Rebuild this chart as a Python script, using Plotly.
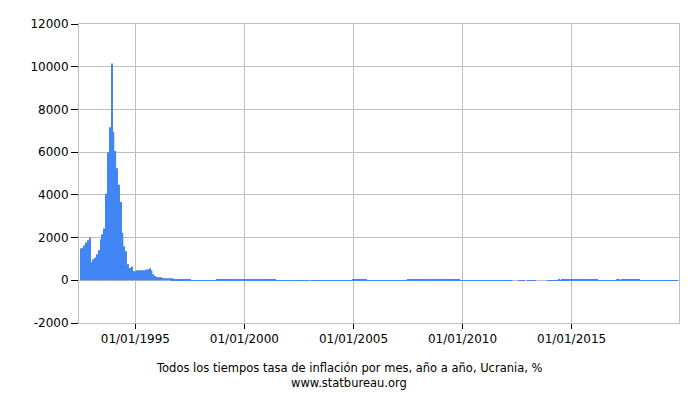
"""Ukraine monthly year-over-year inflation, all time (statbureau style)."""

import pandas as pd
import plotly.graph_objects as go

# Monthly yoy inflation, %, first month is Jul 1992
y1992 = [1484, 1516, 1625, 1766, 1875, 2000]
y1993 = [844, 984, 1063, 1219, 1406, 1922, 2156, 2422, 4050, 5990, 7170, 10155]
y1994 = [6940, 6050, 5250, 4470, 3670, 2220, 1590, 1360, 745, 574, 651, 434]
y1995 = [420, 465, 465, 465, 465, 465, 510, 510, 560, 465, 280, 200]
y1996 = [155, 140, 140, 110, 95, 95, 95, 95, 90, 78, 60, 47]
y1997 = [40, 35, 30, 25, 20, 17, 15, 13, 12, 11, 10, 10]
y1998 = [9, 8, 7, 6, 6, 6, 6, 7, 12, 16, 18, 20]
y1999 = [21, 22, 23, 23, 22, 21, 20, 19, 20, 20, 20, 19]
y2000 = [22, 23, 25, 26, 28, 29, 30, 30, 29, 27, 26, 26]
y2001 = [24, 22, 20, 17, 15, 14, 12, 10, 8, 7, 6, 6]
y2002 = [5, 4, 3, 2, 1, -1, -3, -3, -2, -2, -1, -1]
y2003 = [0, 1, 3, 4, 5, 6, 7, 8, 8, 8, 8, 8]
y2004 = [8, 8, 8, 8, 9, 10, 11, 11, 11, 12, 12, 12]
y2005 = [14, 15, 15, 14, 15, 15, 15, 14, 13, 12, 11, 10]
y2006 = [9, 8, 7, 7, 7, 7, 8, 9, 11, 11, 11, 12]
y2007 = [12, 11, 11, 12, 12, 13, 14, 15, 15, 15, 16, 17]
y2008 = [20, 22, 26, 30, 31, 30, 27, 25, 24, 23, 23, 22]
y2009 = [22, 21, 18, 16, 15, 15, 15, 16, 16, 16, 16, 12]
y2010 = [11, 11, 11, 10, 10, 9, 9, 8, 10, 10, 10, 9]
y2011 = [8, 7, 8, 9, 11, 10, 9, 7, 6, 6, 5, 5]
y2012 = [4, 4, 2, 1, 0, 0, 0, -1, -1, -1, -1, -0.2]
y2013 = [-0.5, -0.6, -0.6, -0.9, -0.8, -0.3, -0.3, -0.3, 0, 0, 0, 0.5]
y2014 = [0.5, 1, 3, 7, 12, 14, 13, 15, 18, 20, 21, 25]
y2015 = [29, 34, 46, 61, 58, 57, 55, 53, 52, 51, 46, 43]
y2016 = [40, 33, 21, 10, 7, 7, 7, 8, 8, 12, 12, 12]
y2017 = [13, 14, 15, 13, 14, 16, 16, 16, 16, 14, 15, 14]
y2018 = [14, 15, 13, 13, 12, 10, 9, 9, 9, 10, 10, 10]
y2019 = [9, 9, 9, 9, 9, 10, 9, 9, 8, 7, 6]

tick_dates = ["1995-01-01", "2000-01-01", "2005-01-01", "2010-01-01", "2015-01-01"]
tick_labels = ["01/01/1995", "01/01/2000", "01/01/2005", "01/01/2010", "01/01/2015"]
y_ticks = [-2000, 0, 2000, 4000, 6000, 8000, 10000, 12000]
y_tick_labels = ["-2000", "0", "2000", "4000", "6000", "8000", "10000", "12000"]

values = (
    y1992 + y1993 + y1994 + y1995 + y1996 + y1997 + y1998 + y1999 + y2000
    + y2001 + y2002 + y2003 + y2004 + y2005 + y2006 + y2007 + y2008 + y2009
    + y2010 + y2011 + y2012 + y2013 + y2014 + y2015 + y2016 + y2017 + y2018
    + y2019
)
months = pd.date_range("1992-07-01", periods=len(values), freq="MS")

GRID = "#c0c0c0"
FONT = "DejaVu Sans"

fig = go.Figure(
    go.Bar(x=months, y=values, marker_color="#4285F4", marker_line_width=0)
)

# page body adds an offset, so margins are shifted by that
fig.update_layout(
    width=700,
    height=400,
    margin=dict(l=71, r=29, t=9, b=85),
    plot_bgcolor="white",
    paper_bgcolor="white",
    bargap=0.15,
    showlegend=False,
    font=dict(family=FONT, size=12, color="black"),
)

fig.update_xaxes(
    type="date",
    range=["1992-06-01", "2019-12-05"],
    tickvals=tick_dates,
    ticktext=tick_labels,
    showgrid=True,
    gridcolor=GRID,
    ticks="outside",
    ticklen=5,
    tickcolor="black",
    showline=True,
    linecolor=GRID,
    mirror=True,
    tickfont=dict(size=12),
)

fig.update_yaxes(
    range=[-2000, 12000],
    tickvals=y_ticks,
    ticktext=y_tick_labels,
    showgrid=True,
    gridcolor=GRID,
    zeroline=True,
    zerolinecolor=GRID,
    zerolinewidth=1,
    ticks="outside",
    ticklen=7,
    tickcolor="black",
    showline=True,
    linecolor=GRID,
    mirror=True,
    tickfont=dict(size=12),
)

fig.add_annotation(
    text="Todos los tiempos tasa de inflación por mes, año a año, Ucrania, %",
    xref="paper", yref="paper", x=0.45, y=-0.151,
    showarrow=False, font=dict(size=11.5), yanchor="middle",
)
fig.add_annotation(
    text="www.statbureau.org",
    xref="paper", yref="paper", x=0.45, y=-0.2,
    showarrow=False, font=dict(size=11.5), yanchor="middle",
)

fig.write_html("out.html")
